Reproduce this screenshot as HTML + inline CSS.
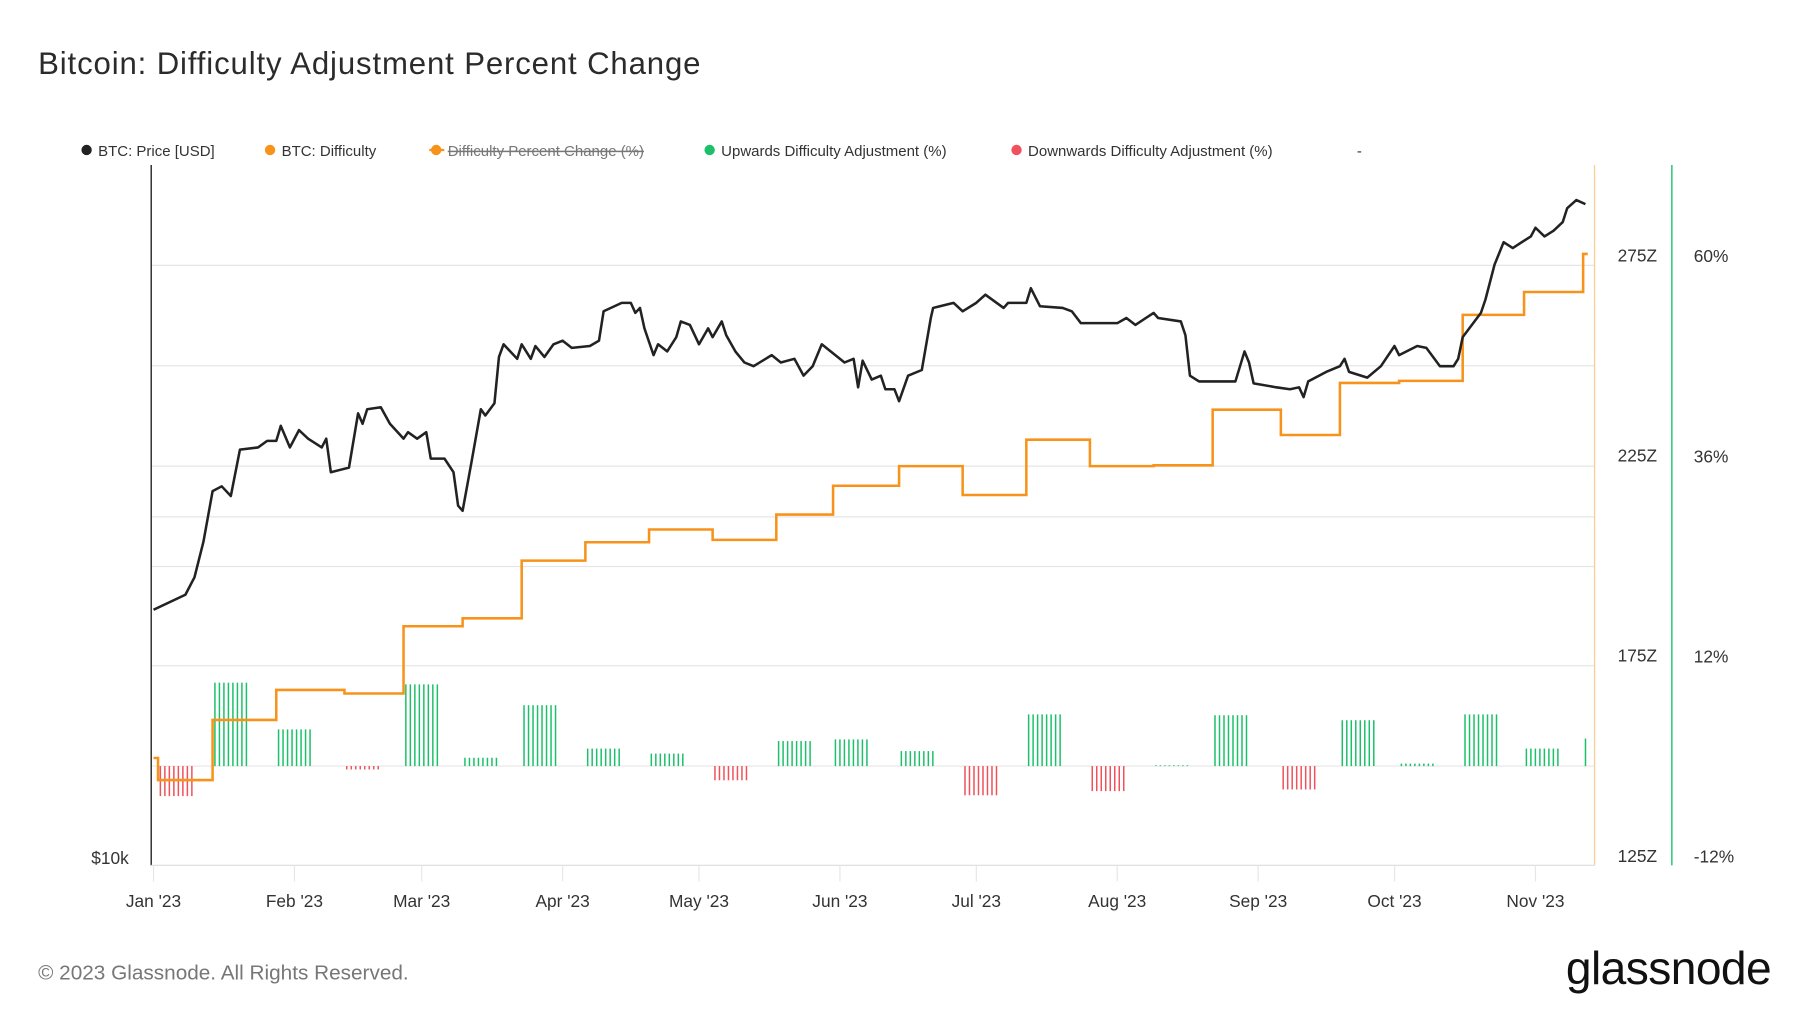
<!DOCTYPE html>
<html><head><meta charset="utf-8"><style>
html,body{margin:0;padding:0;background:#fff;}
svg{display:block;font-family:"Liberation Sans",sans-serif;}
</style></head><body>
<svg id="chart" width="1800" height="1013" viewBox="0 0 1560 878" xmlns="http://www.w3.org/2000/svg">
<text x="33" y="64" font-size="27" letter-spacing="0.75" fill="#2b2b2b">Bitcoin: Difficulty Adjustment Percent Change</text>
<g font-size="13" fill="#333">
 <g><circle cx="75" cy="130" r="4.5" fill="#222"/><text x="85" y="135">BTC: Price [USD]</text></g>
 <g><circle cx="234" cy="130" r="4.5" fill="#f7931a"/><text x="244" y="135">BTC: Difficulty</text></g>
 <g><circle cx="378" cy="130" r="4.5" fill="#f7931a"/><line x1="372" y1="130" x2="385" y2="130" stroke="#f7931a" stroke-width="2"/><text x="388" y="135" fill="#777" text-decoration="line-through">Difficulty Percent Change (%)</text></g>
 <g><circle cx="615" cy="130" r="4.5" fill="#1cc06a"/><text x="625" y="135">Upwards Difficulty Adjustment (%)</text></g>
 <g><circle cx="881" cy="130" r="4.5" fill="#f0515a"/><text x="891" y="135">Downwards Difficulty Adjustment (%)</text></g>
 <text x="1176" y="135">-</text>
</g>
<g id="grid"></g>
<g id="bars"></g>
<path id="diffLine" fill="none" stroke="#f7931a" stroke-width="2.2"/>
<path id="priceLine" fill="none" stroke="#222" stroke-width="2.2" stroke-linejoin="round"/>
<line x1="131" y1="143" x2="131" y2="750" stroke="#222" stroke-width="1.2"/>
<line x1="1382" y1="143" x2="1382" y2="750" stroke="#f9cf9a" stroke-width="1.2"/>
<line x1="1449" y1="143" x2="1449" y2="750" stroke="#1cc06a" stroke-width="1.2"/>
<line x1="131" y1="750" x2="1382" y2="750" stroke="#ddd" stroke-width="1"/>
<g id="axes" font-size="15" fill="#333"></g>
<text x="79" y="749" font-size="15" fill="#333">$10k</text>
<text x="33" y="849" font-size="18" fill="#777">© 2023 Glassnode. All Rights Reserved.</text>
<text x="1535" y="853" font-size="40" text-anchor="end" fill="#111" letter-spacing="-0.5">glassnode</text>
</svg>
<script>
const priceDays=[0,7,9,11,13,15,17,19,23,25,27,28,30,32,34,37,38,39,41,43,45,46,47,50,52,55,56,58,60,61,64,66,67,68,70,72,73,75,76,77,80,81,83,84,86,88,90,92,96,98,99,103,105,106,107,108,110,111,113,115,116,118,120,122,123,125,126,128,130,132,136,138,141,143,145,147,148,152,154,155,156,158,160,161,163,164,166,169,171,171.5,173,176,178,181,183,187,188,192,193,195,200,202,204,209,212,214,216,220,221,226,227,228,230,234,238,240,241,242,247,250,252,253,254,258,261,262,263,267,270,273,274,278,280,283,286,287,288,292,293,295,297,299,301,303,304,306,308,310,311,313,315];
const priceValues=[16600,17100,17700,19000,21000,21200,20800,22800,22900,23200,23200,23900,22900,23700,23300,22900,23300,21800,21900,22000,24500,24000,24700,24800,24000,23300,23600,23300,23600,22400,22400,21800,20400,20200,22300,24700,24400,25000,27400,28100,27300,28100,27300,28000,27400,28100,28300,27900,28000,28300,30000,30500,30500,29900,30200,29000,27500,28100,27700,28500,29400,29200,28100,29000,28500,29400,28600,27700,27100,26900,27500,27100,27300,26400,26900,28100,27900,27100,27300,25800,27200,26200,26400,25700,25700,25100,26400,26700,29600,30200,30300,30500,30000,30500,31000,30200,30500,30500,31400,30300,30200,30000,29300,29300,29300,29600,29200,29900,29600,29400,28600,26400,26100,26100,26100,27700,27100,26000,25800,25700,25800,25300,26100,26600,26900,27300,26600,26300,26900,28000,27500,28000,27900,26900,26900,27300,28500,29900,30700,32900,34400,34000,34400,34800,35400,34800,35200,35800,36800,37400,37100];
const adjDays=[0,1,13,27,42,55,68,81,95,109,123,137,149.5,164,178,192,206,220,233,248,261,274,288,301.5,314.5];
const difficultyZ=[151.8,146.3,161.3,168.8,167.9,184.7,186.7,201.1,205.7,208.9,206.3,212.6,219.8,224.7,217.5,231.3,224.7,224.9,238.8,232.5,245.5,246.0,262.5,268.2,277.7];
const pctChange=[null,-3.6,10.0,4.4,-0.4,9.8,1.0,7.3,2.1,1.5,-1.7,3.0,3.2,1.8,-3.5,6.2,-3.0,0.1,6.1,-2.8,5.5,0.3,6.2,2.1,3.3];
const monthLabels=["Jan '23","Feb '23","Mar '23","Apr '23","May '23","Jun '23","Jul '23","Aug '23","Sep '23","Oct '23","Nov '23"];
const monthDays=[0,31,59,90,120,151,181,212,243,273,304];
const diffTicks=[125,175,225,275];
const pctTicks=[-12,12,36,60];
const lastDay=315.5;

const NS="http://www.w3.org/2000/svg";
const xS=d=>133+d*3.94;
const yPrice=p=>750-303*Math.log2(p/10000);
const yDiff=v=>750-(v-125)*3.47;
const yPct=v=>664-v*7.23;
function mk(tag,attrs,parent){const e=document.createElementNS(NS,tag);for(const k in attrs)e.setAttribute(k,attrs[k]);parent.appendChild(e);return e;}

const grid=document.getElementById('grid');
[230,317,404,448,491,577,664].forEach(y=>{const l=mk('line',{x1:131,x2:1382,y1:y,y2:y,stroke:'#e6e6e6','stroke-width':1},grid);

});

const axes=document.getElementById('axes');
monthLabels.forEach((m,i)=>{const x=xS(monthDays[i]);
const t=mk('line',{x1:x,x2:x,y1:750,y2:764,stroke:'#e6e6e6'},axes);


const tx=mk('text',{x:x,y:786,'text-anchor':'middle'},axes);tx.textContent=m;

});
diffTicks.forEach(v=>{const tx=mk('text',{x:1402,y:yDiff(v)-3},axes);tx.textContent=v+'Z';

});
pctTicks.forEach(v=>{const tx=mk('text',{x:1468,y:yPct(v)-3},axes);tx.textContent=v+'%';

});

document.getElementById('priceLine').setAttribute('d',priceDays.map((d,i)=>(i?'L':'M')+xS(d).toFixed(1)+','+yPrice(priceValues[i]).toFixed(1)).join(''));

let dp='';
adjDays.forEach((d,i)=>{const end=i<adjDays.length-1?adjDays[i+1]:lastDay;const y=yDiff(difficultyZ[i]).toFixed(1);
dp+=(i?'L'+xS(d).toFixed(1)+','+y:'M'+xS(d).toFixed(1)+','+y)+'L'+xS(end).toFixed(1)+','+y;});
document.getElementById('diffLine').setAttribute('d',dp);

const bars=document.getElementById('bars');
pctChange.forEach((v,i)=>{if(v===null)return;const d0=adjDays[i];const n=i===pctChange.length-1?1:8;
for(let k=0;k<n;k++){const x=xS(d0)+2+k*3.9;const b=mk('line',{x1:x,x2:x,y1:yPct(0),y2:yPct(v),stroke:v>=0?'#1cc06a':'#f0515a','stroke-width':1.3},bars);

}});
</script>
</body></html>
